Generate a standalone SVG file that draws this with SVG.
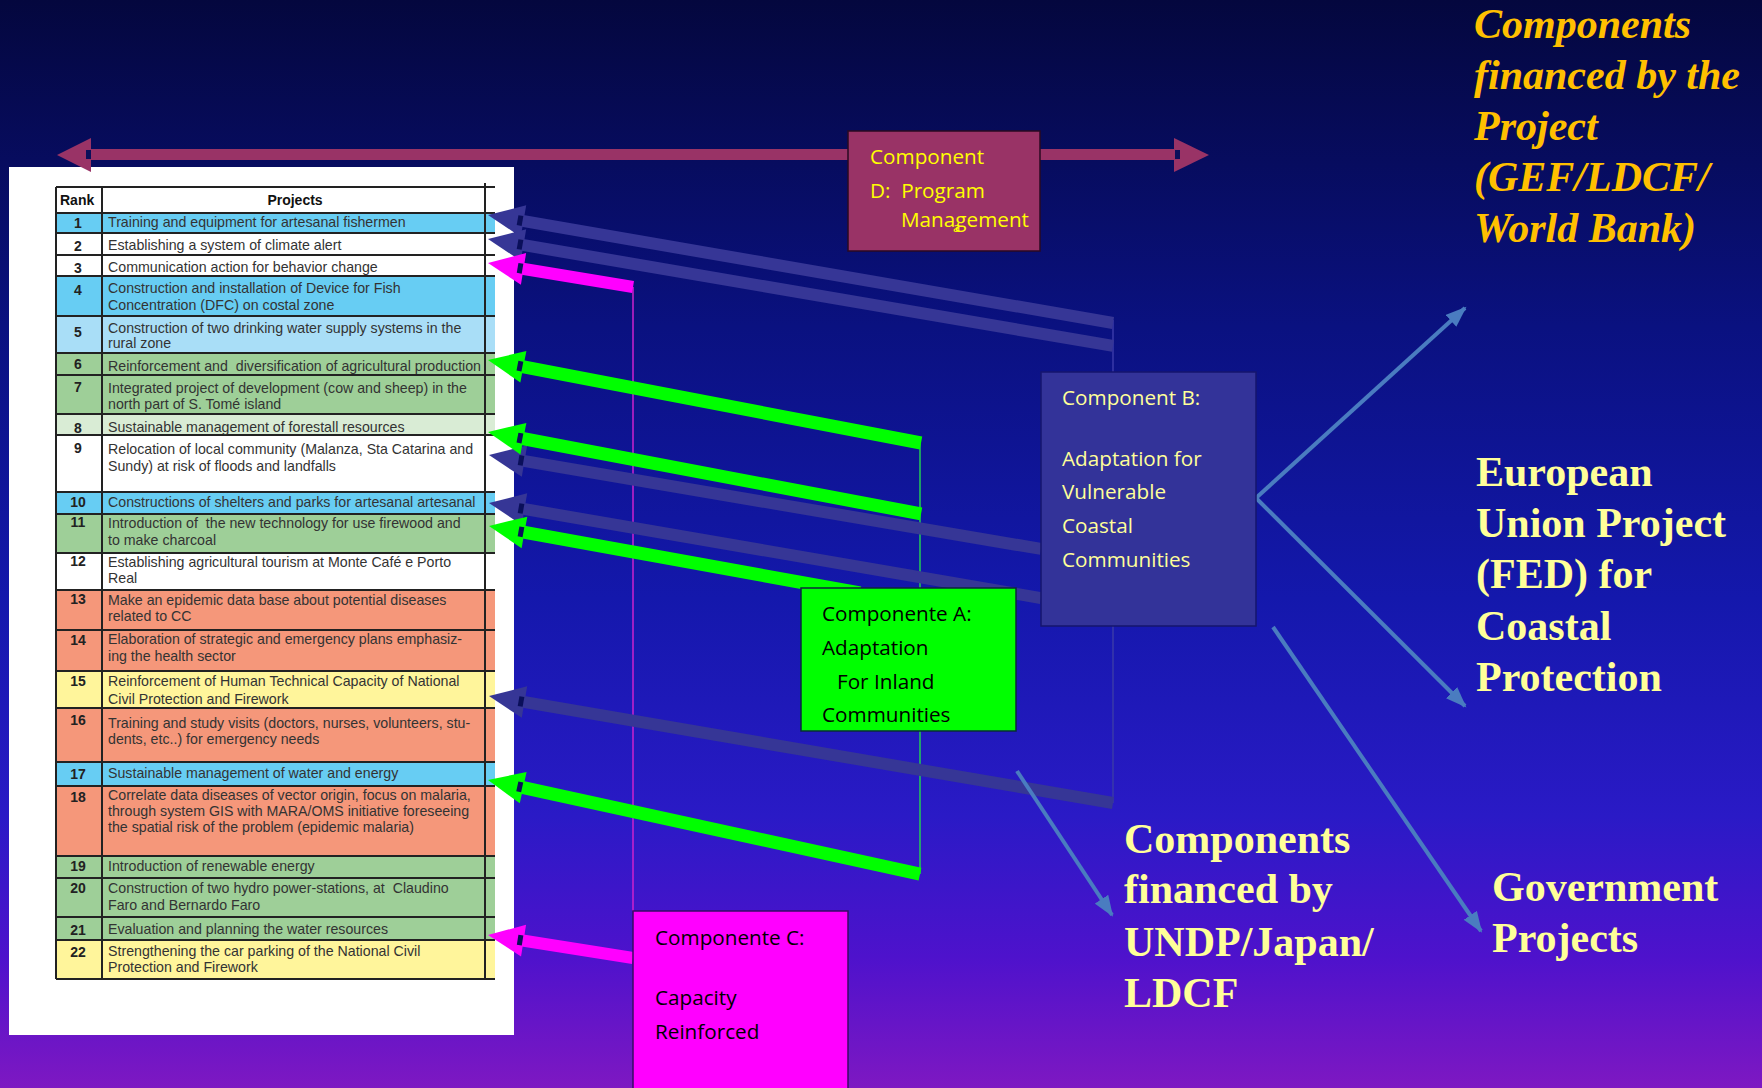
<svg xmlns="http://www.w3.org/2000/svg" width="1762" height="1088" viewBox="0 0 1762 1088">
<defs>
<linearGradient id="bg" x1="0" y1="0" x2="0" y2="1">
<stop offset="0" stop-color="#04073e"/>
<stop offset="0.3" stop-color="#0a1180"/>
<stop offset="0.55" stop-color="#1418ac"/>
<stop offset="0.75" stop-color="#2a1ac6"/>
<stop offset="0.88" stop-color="#4e12cc"/>
<stop offset="1" stop-color="#7e18c2"/>
</linearGradient>
<marker id="fa" markerUnits="userSpaceOnUse" markerWidth="22" markerHeight="16" refX="19" refY="8" orient="auto">
<path d="M0,0 L21,8 L0,16 Z" fill="#4a7cc0"/>
</marker>
<style>
.t{font-family:"Liberation Sans",Arial,sans-serif;font-size:14.2px;fill:#333}
.rk{font-family:"Liberation Sans",Arial,sans-serif;font-size:14px;font-weight:bold;fill:#222;text-anchor:middle}
.hd{font-family:"Liberation Sans",Arial,sans-serif;font-size:14px;font-weight:bold;fill:#111}
.grid{stroke:#222;stroke-width:2;fill:none}
.bx{font-family:"Open Sans","Noto Sans",sans-serif;font-size:20.7px}
.big{font-family:"Liberation Serif","Times New Roman",serif;font-size:42px;font-weight:bold}
.blue{fill:#363696}
.green{fill:#00ff00}
.mag{fill:#ff00ff}
.notch{fill:#0a0f5a}
.fin{stroke:#4a7cc0;stroke-width:4;fill:none;marker-end:url(#fa)}
</style>
</defs>
<rect width="1762" height="1088" fill="url(#bg)"/>

<g id="table">
<rect x="9" y="167" width="505" height="868" fill="#ffffff"/>
<rect x="56" y="187" width="439" height="26" fill="#ffffff"/>
<rect x="56" y="213" width="439" height="20" fill="#67cdf3"/>
<rect x="56" y="233" width="439" height="22" fill="#ffffff"/>
<rect x="56" y="255" width="439" height="21" fill="#ffffff"/>
<rect x="56" y="276" width="439" height="40" fill="#67cdf3"/>
<rect x="56" y="316" width="439" height="37" fill="#a9def7"/>
<rect x="56" y="353" width="439" height="22" fill="#9ecf98"/>
<rect x="56" y="375" width="439" height="39" fill="#9ecf98"/>
<rect x="56" y="414" width="439" height="21" fill="#d9ecd5"/>
<rect x="56" y="435" width="439" height="57" fill="#ffffff"/>
<rect x="56" y="492" width="439" height="22" fill="#67cdf3"/>
<rect x="56" y="514" width="439" height="39" fill="#9ecf98"/>
<rect x="56" y="553" width="439" height="37" fill="#ffffff"/>
<rect x="56" y="590" width="439" height="40" fill="#f5977a"/>
<rect x="56" y="630" width="439" height="41" fill="#f5977a"/>
<rect x="56" y="671" width="439" height="37" fill="#fff59b"/>
<rect x="56" y="708" width="439" height="54" fill="#f5977a"/>
<rect x="56" y="762" width="439" height="24" fill="#67cdf3"/>
<rect x="56" y="786" width="439" height="70" fill="#f5977a"/>
<rect x="56" y="856" width="439" height="22" fill="#9ecf98"/>
<rect x="56" y="878" width="439" height="39" fill="#9ecf98"/>
<rect x="56" y="917" width="439" height="23" fill="#9ecf98"/>
<rect x="56" y="940" width="439" height="39" fill="#fff59b"/>
<path class="grid" d="M56,187H495M56,213H495M56,233H495M56,255H495M56,276H495M56,316H495M56,353H495M56,375H495M56,414H495M56,435H495M56,492H495M56,514H495M56,553H495M56,590H495M56,630H495M56,671H495M56,708H495M56,762H495M56,786H495M56,856H495M56,878H495M56,917H495M56,940H495M56,979H495M56,187V979M102,187V979M485,183V979"/>
<text class="hd" x="60" y="205">Rank</text>
<text class="hd" x="295" y="205" text-anchor="middle">Projects</text>
<text class="rk" x="78" y="228">1</text>
<text class="rk" x="78" y="251">2</text>
<text class="rk" x="78" y="273">3</text>
<text class="rk" x="78" y="295">4</text>
<text class="rk" x="78" y="337">5</text>
<text class="rk" x="78" y="369">6</text>
<text class="rk" x="78" y="392">7</text>
<text class="rk" x="78" y="433">8</text>
<text class="rk" x="78" y="453">9</text>
<text class="rk" x="78" y="507">10</text>
<text class="rk" x="78" y="527">11</text>
<text class="rk" x="78" y="566">12</text>
<text class="rk" x="78" y="604">13</text>
<text class="rk" x="78" y="645">14</text>
<text class="rk" x="78" y="686">15</text>
<text class="rk" x="78" y="725">16</text>
<text class="rk" x="78" y="779">17</text>
<text class="rk" x="78" y="802">18</text>
<text class="rk" x="78" y="871">19</text>
<text class="rk" x="78" y="893">20</text>
<text class="rk" x="78" y="935">21</text>
<text class="rk" x="78" y="957">22</text>
<g class="t">
<text x="108" y="227">Training and equipment for artesanal fishermen</text>
<text x="108" y="250">Establishing a system of climate alert</text>
<text x="108" y="272">Communication action for behavior change</text>
<text x="108" y="293">Construction and installation of Device for Fish</text>
<text x="108" y="310">Concentration (DFC) on costal zone</text>
<text x="108" y="333">Construction of two drinking water supply systems in the</text>
<text x="108" y="348">rural zone</text>
<text x="108" y="371" xml:space="preserve">Reinforcement and  diversification of agricultural production</text>
<text x="108" y="393">Integrated project of development (cow and sheep) in the</text>
<text x="108" y="409">north part of S. Tomé island</text>
<text x="108" y="432">Sustainable management of forestall resources</text>
<text x="108" y="454">Relocation of local community (Malanza, Sta Catarina and</text>
<text x="108" y="471">Sundy) at risk of floods and landfalls</text>
<text x="108" y="507">Constructions of shelters and parks for artesanal artesanal</text>
<text x="108" y="528" xml:space="preserve">Introduction of  the new technology for use firewood and</text>
<text x="108" y="545">to make charcoal</text>
<text x="108" y="567">Establishing agricultural tourism at Monte Café e Porto</text>
<text x="108" y="583">Real</text>
<text x="108" y="605">Make an epidemic data base about potential diseases</text>
<text x="108" y="621">related to CC</text>
<text x="108" y="644">Elaboration of strategic and emergency plans emphasiz-</text>
<text x="108" y="661">ing the health sector</text>
<text x="108" y="686">Reinforcement of Human Technical Capacity of National</text>
<text x="108" y="704">Civil Protection and Firework</text>
<text x="108" y="728">Training and study visits (doctors, nurses, volunteers, stu-</text>
<text x="108" y="744">dents, etc..) for emergency needs</text>
<text x="108" y="778">Sustainable management of water and energy</text>
<text x="108" y="800">Correlate data diseases of vector origin, focus on malaria,</text>
<text x="108" y="816">through system GIS with MARA/OMS initiative foreseeing</text>
<text x="108" y="832">the spatial risk of the problem (epidemic malaria)</text>
<text x="108" y="871">Introduction of renewable energy</text>
<text x="108" y="893" xml:space="preserve">Construction of two hydro power-stations, at  Claudino</text>
<text x="108" y="910">Faro and Bernardo Faro</text>
<text x="108" y="934">Evaluation and planning the water resources</text>
<text x="108" y="956">Strengthening the car parking of the National Civil</text>
<text x="108" y="972">Protection and Firework</text>
</g>
</g>

<g id="connectors">
<!-- Program management double arrow -->
<g fill="#993366">
<rect x="88" y="149" width="1088" height="11"/>
<polygon points="57,155 91,138 91,172"/>
<polygon points="1209,155 1174,138 1174,172"/>
</g>
<rect class="notch" x="86" y="150" width="5" height="9"/>
<rect class="notch" x="1175" y="150" width="5" height="9"/>
<!-- thin verticals -->
<line x1="633" y1="287" x2="633" y2="911" stroke="#cc22cc" stroke-width="1.5"/>
<line x1="920" y1="443" x2="920" y2="874" stroke="#22cc55" stroke-width="1.5"/>
<line x1="1113" y1="320" x2="1113" y2="803" stroke="#3a3aa8" stroke-width="1.5"/>
<!-- blue arrows -->
<g class="blue" transform="translate(488,215) rotate(9.80)"><polygon points="0,0 36,-16 36,16"/><rect x="35" y="-6" width="599.3" height="12"/><rect class="notch" x="30" y="-5" width="5" height="10"/></g>
<g class="blue" transform="translate(488,239) rotate(9.71)"><polygon points="0,0 36,-16 36,16"/><rect x="35" y="-6" width="599.1" height="12"/><rect class="notch" x="30" y="-5" width="5" height="10"/></g>
<g class="blue" transform="translate(489,455) rotate(9.66)"><polygon points="0,0 36,-16 36,16"/><rect x="35" y="-6" width="524.9" height="12"/><rect class="notch" x="30" y="-5" width="5" height="10"/></g>
<g class="blue" transform="translate(489,503) rotate(9.77)"><polygon points="0,0 36,-16 36,16"/><rect x="35" y="-6" width="525.1" height="12"/><rect class="notch" x="30" y="-5" width="5" height="10"/></g>
<g class="blue" transform="translate(489,696) rotate(9.73)"><polygon points="0,0 36,-16 36,16"/><rect x="35" y="-6" width="598.1" height="12"/><rect class="notch" x="30" y="-5" width="5" height="10"/></g>
<!-- magenta arrows -->
<g class="mag" transform="translate(488,263) rotate(9.40)"><polygon points="0,0 36,-16 36,16"/><rect x="35" y="-6" width="112" height="12"/><rect class="notch" x="30" y="-5" width="5" height="10"/></g>
<g class="mag" transform="translate(488,935) rotate(9.01)"><polygon points="0,0 36,-16 36,16"/><rect x="35" y="-6" width="111.8" height="12"/><rect class="notch" x="30" y="-5" width="5" height="10"/></g>
<!-- green arrows -->
<g class="green" transform="translate(488,360) rotate(10.85)"><polygon points="0,0 36,-16 36,16"/><rect x="35" y="-6.5" width="405.9" height="13"/><rect class="notch" x="30" y="-5" width="5" height="10"/></g>
<g class="green" transform="translate(488,432) rotate(10.72)"><polygon points="0,0 36,-16 36,16"/><rect x="35" y="-6.5" width="405.7" height="13"/><rect class="notch" x="30" y="-5" width="5" height="10"/></g>
<g class="green" transform="translate(489,526) rotate(10.24)"><polygon points="0,0 36,-16 36,16"/><rect x="35" y="-6.5" width="342" height="13"/><rect class="notch" x="30" y="-5" width="5" height="10"/></g>
<g class="green" transform="translate(488,780) rotate(12.28)"><polygon points="0,0 36,-16 36,16"/><rect x="35" y="-6.5" width="407.1" height="13"/><rect class="notch" x="30" y="-5" width="5" height="10"/></g>
<!-- financing arrows -->
<line class="fin" x1="1256" y1="498" x2="1465" y2="308"/>
<line class="fin" x1="1256" y1="498" x2="1465" y2="706"/>
<line class="fin" x1="1273" y1="627" x2="1481" y2="931"/>
<line class="fin" x1="1017" y1="771" x2="1112" y2="915"/>
</g>

<g id="componentD">
<rect x="848" y="131" width="192" height="120" fill="#993366" stroke="#2a0a22" stroke-width="1.5"/>
<g class="bx" fill="#ffff00">
<text x="870" y="164">Component</text>
<text x="870" y="198" xml:space="preserve">D:  Program</text>
<text x="901" y="227">Management</text>
<text x="953" y="232" font-size="13px">a</text>
</g>
</g>

<g id="componentB">
<rect x="1041" y="372" width="215" height="254" fill="#333399" stroke="#16166e" stroke-width="1.5"/>
<g class="bx" fill="#ffff99">
<text x="1062" y="405">Component B:</text>
<text x="1062" y="466">Adaptation for</text>
<text x="1062" y="499">Vulnerable</text>
<text x="1062" y="533">Coastal</text>
<text x="1062" y="567">Communities</text>
</g>
</g>

<g id="componentA">
<rect x="801" y="588" width="215" height="143" fill="#00ff00" stroke="#0a2a3a" stroke-width="1.5"/>
<g class="bx" fill="#000000">
<text x="822" y="621">Componente A:</text>
<text x="822" y="655">Adaptation</text>
<text x="837" y="689">For Inland</text>
<text x="822" y="722">Communities</text>
</g>
</g>

<g id="componentC">
<rect x="633" y="911" width="215" height="190" fill="#ff00ff" stroke="#3a0a66" stroke-width="1.5"/>
<g class="bx" fill="#000000">
<text x="655" y="945">Componente C:</text>
<text x="655" y="1005">Capacity</text>
<text x="655" y="1039">Reinforced</text>
</g>
</g>

<g id="label-gef" class="big" fill="#ffc000" font-style="italic">
<text x="1474" y="38">Components</text>
<text x="1474" y="89">financed by the</text>
<text x="1474" y="140">Project</text>
<text x="1474" y="191">(GEF/LDCF/</text>
<text x="1474" y="242">World Bank)</text>
</g>

<g id="label-eu" class="big" fill="#ffff99">
<text x="1476" y="486">European</text>
<text x="1476" y="537">Union Project</text>
<text x="1476" y="588">(FED) for</text>
<text x="1476" y="640">Coastal</text>
<text x="1476" y="691">Protection</text>
</g>

<g id="label-gov" class="big" fill="#ffff99">
<text x="1492" y="901">Government</text>
<text x="1492" y="952">Projects</text>
</g>

<g id="label-undp" class="big" fill="#ffff99">
<text x="1124" y="853">Components</text>
<text x="1124" y="903">financed by</text>
<text x="1124" y="956">UNDP/Japan/</text>
<text x="1124" y="1007">LDCF</text>
</g>
</svg>
